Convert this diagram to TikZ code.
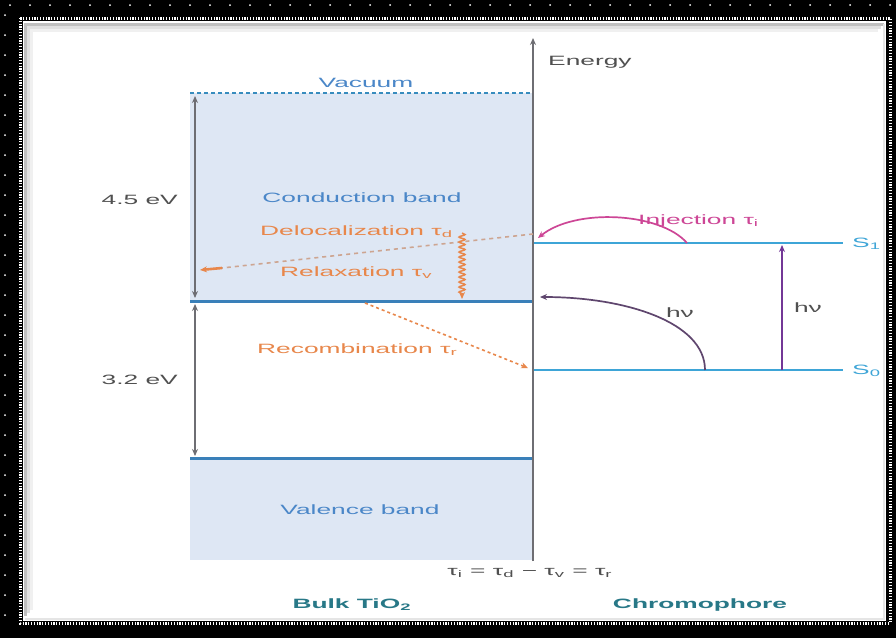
\documentclass[tikz,border=0pt]{standalone}
\usepackage{fontspec}
\setmainfont{Liberation Sans}
\usetikzlibrary{arrows.meta,decorations.pathmorphing}
\definecolor{bandfill}{RGB}{222,231,244}
\definecolor{bandline}{RGB}{58,128,185}
\definecolor{vacline}{RGB}{55,140,190}
\definecolor{sline}{RGB}{62,165,215}
\definecolor{bluetxt}{RGB}{75,135,200}
\definecolor{orangetxt}{RGB}{232,135,75}
\definecolor{orangedash}{RGB}{205,165,145}
\definecolor{grayline}{RGB}{110,110,115}
\definecolor{graytxt}{RGB}{80,80,80}
\definecolor{tealtxt}{RGB}{40,120,135}
\definecolor{injcol}{RGB}{205,70,150}
\definecolor{purp}{RGB}{115,55,150}
\definecolor{curvecol}{RGB}{95,70,110}
\newcommand\sx[1]{\scalebox{1.95}[1]{#1}}
\begin{document}
\begin{tikzpicture}[x=1pt,y=-1pt,
  lbl/.style={inner sep=0, font=\fontsize{13.5}{15}\selectfont},
  boldlbl/.style={inner sep=0, font=\fontsize{13.5}{15}\selectfont\bfseries, text=tealtxt},
  tip/.style={-{Stealth[length=7pt,width=6pt]}},
  dtip/.style={{Stealth[length=7pt,width=6pt]}-{Stealth[length=7pt,width=6pt]}}]
\useasboundingbox (0,0) rectangle (896,638);
% frame
\fill[black] (0,0) rectangle (896,638);
\fill[white] (23,21) rectangle (886,621);
\draw[white, line width=3, dash pattern=on 1.2pt off 1.6pt] (20,18) rectangle (890,623);
\foreach \i in {0,...,44} {\fill[white] (10+20*\i,5) circle (1);}
\foreach \i in {0,...,30} {\fill[white] (5,15+20*\i) circle (1);}
\draw[black!25, line width=3] (25,616) -- (25,24) -- (884,24);
\draw[black!12, line width=3] (28,613) -- (28,27) -- (881,27);
\draw[black!6, line width=3] (31,610) -- (31,30) -- (878,30);
\draw[black!10, line width=2] (884,24) -- (884,619) -- (25,619);
% band fills
\fill[bandfill] (190,93) rectangle (533,301);
\fill[bandfill] (190,458) rectangle (533,560);
% coordinates
\coordinate (vacL) at (190,93); \coordinate (vacR) at (533,93);
\coordinate (cbL) at (190,301); \coordinate (cbR) at (533,301);
\coordinate (vbL) at (190,458); \coordinate (vbR) at (533,458);
\coordinate (s1L) at (533,243); \coordinate (s1R) at (843,243);
\coordinate (s0L) at (533,370); \coordinate (s0R) at (843,370);
\coordinate (axB) at (533,561); \coordinate (axT) at (533,38);
\coordinate (a1t) at (195,96); \coordinate (a1b) at (195,298);
\coordinate (a2t) at (195,304); \coordinate (a2b) at (195,456);
% levels
\draw[vacline, line width=2.5, dash pattern=on 4pt off 3pt] (vacL) -- (vacR);
\draw[bandline, line width=3] (cbL) -- (cbR);
\draw[bandline, line width=3] (vbL) -- (vbR);
\draw[sline, line width=2.8] (s1L) -- (s1R);
\draw[sline, line width=2.8] (s0L) -- (s0R);
\draw[grayline, line width=1.8, tip] (axB) -- (axT);
\draw[grayline, line width=1.7, dtip] (a1t) -- (a1b);
\draw[grayline, line width=1.7, dtip] (a2t) -- (a2b);
% processes
\coordinate (delS) at (533,234); \coordinate (delE) at (200,270);
\draw[orangedash, line width=1.6, dash pattern=on 4pt off 4pt] (delS) -- (222,268);
\draw[orangetxt, line width=2.6, tip] (222,268) -- (delE);
\coordinate (relS) at (462,233); \coordinate (relE) at (462,299);
\draw[orangetxt, line width=1.5, decorate, decoration={snake, amplitude=3pt, segment length=5pt, post length=5pt}, tip] (relS) -- (relE);
\coordinate (recS) at (365,303); \coordinate (recE) at (528,368);
\draw[orangetxt, line width=1.6, dashed, tip] (recS) -- (recE);
\coordinate (injS) at (687,243); \coordinate (injE) at (538,238);
\draw[injcol, line width=1.7, tip] (injS) .. controls (660,212) and (575,208) .. (injE);
\coordinate (hvS) at (705,370); \coordinate (hvE) at (540,297);
\draw[curvecol, line width=1.7, tip] (hvS) .. controls (705,322) and (625,297) .. (hvE);
\coordinate (exS) at (782,370); \coordinate (exE) at (782,245);
\draw[purp, line width=1.9, tip] (exS) -- (exE);
% labels
\node[lbl, text=bluetxt] (vac) at (366,83) {\sx{Vacuum}};
\node[lbl, text=graytxt, anchor=west] (en) at (548,62) {\sx{Energy}};
\node[lbl, text=graytxt, anchor=east] (e45) at (178,200) {\sx{4.5 eV}};
\node[lbl, text=graytxt, anchor=east] (e32) at (178,380) {\sx{3.2 eV}};
\node[lbl, text=bluetxt] (cb) at (362,198) {\sx{Conduction band}};
\node[lbl, text=orangetxt, anchor=west] (del) at (260,232) {\sx{Delocalization τ\textsubscript{d}}};
\node[lbl, text=orangetxt, anchor=west] (rel) at (280,273) {\sx{Relaxation τ\textsubscript{v}}};
\node[lbl, text=orangetxt, anchor=west] (rec) at (257,350) {\sx{Recombination τ\textsubscript{r}}};
\node[lbl, text=bluetxt] (vb) at (360,510) {\sx{Valence band}};
\node[lbl, text=injcol, anchor=west] (inj) at (638,221) {\sx{Injection τ\textsubscript{i}}};
\node[lbl, text=graytxt] (hv1) at (680,313) {\sx{hν}};
\node[lbl, text=graytxt] (hv2) at (808,308) {\sx{hν}};
\node[lbl, text=sline, anchor=west] (s1) at (852,244) {\sx{S\textsubscript{1}}};
\node[lbl, text=sline, anchor=west] (s0) at (852,371) {\sx{S\textsubscript{0}}};
\node[lbl, text=graytxt] (rel2) at (530,573) {\sx{τ\textsubscript{i} = τ\textsubscript{d} − τ\textsubscript{v} = τ\textsubscript{r}}};
\node[boldlbl] (bulk) at (352,605) {\sx{Bulk TiO\textsubscript{2}}};
\node[boldlbl] (chr) at (700,605) {\sx{Chromophore}};
\end{tikzpicture}
\end{document}
